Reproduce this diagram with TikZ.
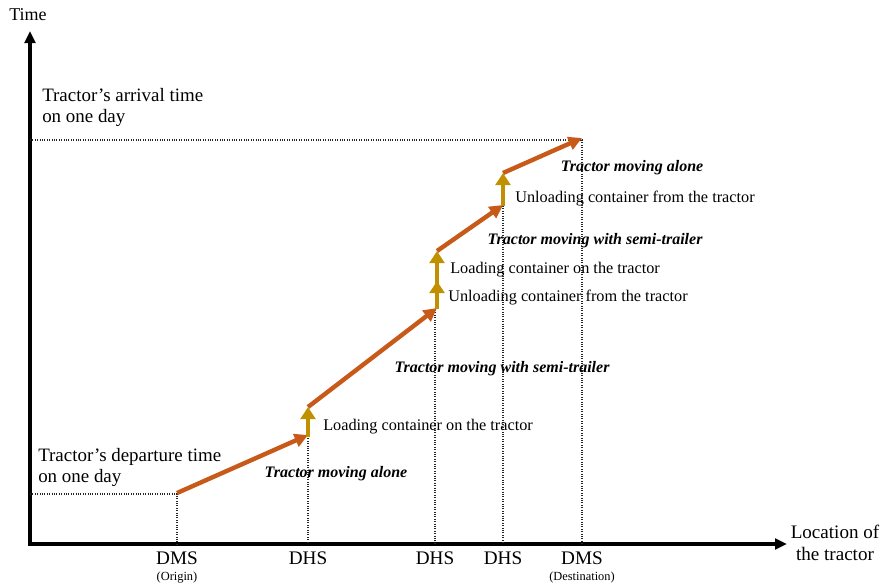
\documentclass[tikz,border=0pt]{standalone}
\usepackage{fontspec}
\setmainfont{Liberation Serif}
\usetikzlibrary{arrows.meta}
\definecolor{movecol}{RGB}{200,90,25}
\definecolor{loadcol}{RGB}{192,144,0}
\tikzset{
  axis/.style={line width=3pt,-{Triangle[length=9pt,width=8pt]}},
  guide/.style={line width=0.8pt,densely dotted,black!85},
  move/.style={line width=3.3pt,movecol,-{Triangle[length=10pt,width=10pt]}},
  load/.style={line width=3.6pt,loadcol,-{Triangle[length=9pt,width=11pt]}},
  caption/.style={font=\fontsize{12.2}{14}\selectfont,anchor=west,inner sep=0pt,yshift=-2pt},
  phase/.style={font=\fontsize{12}{14}\selectfont\bfseries\itshape,inner sep=0pt,yshift=-2pt},
  site/.style={font=\fontsize{14.4}{16}\selectfont,inner sep=0pt},
  sitenote/.style={font=\fontsize{9.3}{11}\selectfont,inner sep=0pt},
  timelabel/.style={font=\fontsize{14.2}{15.5}\selectfont,align=left,anchor=west,inner sep=0pt,yshift=-2pt}
}
\begin{document}
\begin{tikzpicture}[x=0.75pt,y=-0.75pt]
\useasboundingbox (0,0) rectangle (880,587);
% axes
\coordinate (o) at (30,544);
\coordinate (ytop) at (30,31);
\coordinate (xend) at (787,544);
\draw[axis] (30,546) -- (ytop);
\draw[axis] (28,544) -- (xend);
\node[font=\fontsize{13.5}{15}\selectfont,anchor=west,inner sep=0pt] (tlab) at (9,15) {Time};
\node[font=\fontsize{14.3}{16.5}\selectfont,align=center,inner sep=0pt] (xlab) at (835,543) {Location of\\the tractor};
% path points
\coordinate (a0) at (177,493);
\coordinate (a1) at (308,435);
\coordinate (b0) at (308,407);
\coordinate (b1) at (437,308);
\coordinate (c0) at (437,281);
\coordinate (c1) at (437,251);
\coordinate (d1) at (503,205);
\coordinate (e0) at (503,173);
\coordinate (e1) at (582,138);
% axis feet
\coordinate (f0) at (177,544);
\coordinate (f1) at (308,544);
\coordinate (f2) at (435,544);
\coordinate (f3) at (503,544);
\coordinate (f4) at (582,544);
\coordinate (yd) at (30,494);
\coordinate (ya) at (30,140);
% guide lines
\draw[guide] (yd) -- (177,494) -- (f0);
\draw[guide] (ya) -- (582,140) -- (f4);
\draw[guide] (308,436) -- (f1);
\draw[guide] (435,310) -- (f2);
\draw[guide] (503,206) -- (f3);
% movements
\draw[move] (a0) -- (a1);
\draw[move] (b0) -- (b1);
\draw[move] (c1) -- (d1);
\draw[move] (e0) -- (e1);
% loading / unloading
\draw[load] (308,437) -- (b0);
\draw[load] (437,309) -- (c0);
\draw[load] (c0) ++(0,3) -- (c1);
\draw[load] (503,206) -- (e0);
% labels on the time axis
\node[timelabel] (arr) at (42,105) {Tractor’s arrival time\\on one day};
\node[timelabel] (dep) at (38,465) {Tractor’s departure time\\on one day};
% site labels
\node[site] (s0) at (177,558) {DMS};
\node[sitenote] at (177,578) {(Origin)};
\node[site] (s1) at (308,558) {DHS};
\node[site] (s2) at (435,558) {DHS};
\node[site] (s3) at (503,558) {DHS};
\node[site] (s4) at (582,558) {DMS};
\node[sitenote] at (582,578) {(Destination)};
% step captions
\node[caption] (l1) at (323,424) {Loading container on the tractor};
\node[caption] (l2) at (448,295) {Unloading container from the tractor};
\node[caption] (l3) at (450,267) {Loading container on the tractor};
\node[caption] (l4) at (515,196) {Unloading container from the tractor};
\node[phase] (m1) at (336,471) {Tractor moving alone};
\node[phase] (m2) at (502,366) {Tractor moving with semi-trailer};
\node[phase] (m3) at (595,238) {Tractor moving with semi-trailer};
\node[phase] (m4) at (632,165) {Tractor moving alone};
\end{tikzpicture}
\end{document}
